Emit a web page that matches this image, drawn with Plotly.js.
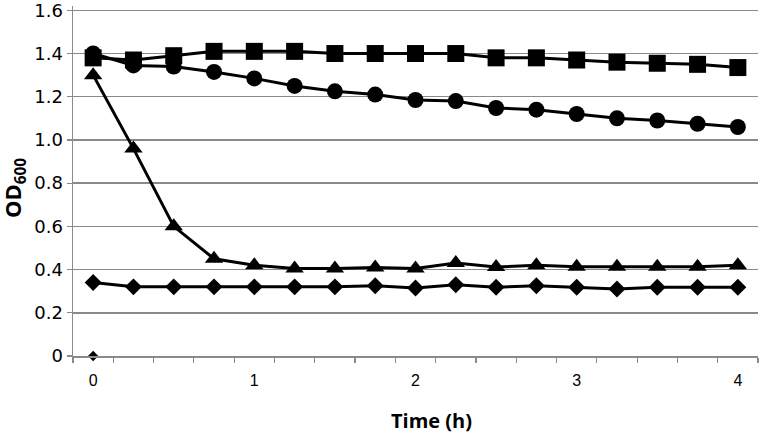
<!DOCTYPE html>
<html>
<head>
<meta charset="utf-8">
<script src="https://cdn.plot.ly/plotly-3.0.1.min.js"></script>
<style>html,body{margin:0;padding:0;background:#fff;}#chart{width:762px;height:434px;}</style>
</head>
<body>
<div id="chart"></div>
<script>
const time = [0, 0.25, 0.5, 0.75, 1, 1.25, 1.5, 1.75, 2, 2.25, 2.5, 2.75, 3, 3.25, 3.5, 3.75, 4];
const squares = [1.38, 1.37, 1.39, 1.41, 1.41, 1.41, 1.40, 1.40, 1.40, 1.40, 1.38, 1.38, 1.37, 1.36, 1.355, 1.35, 1.335];
const circles = [1.40, 1.345, 1.34, 1.315, 1.285, 1.25, 1.225, 1.21, 1.185, 1.18, 1.148, 1.14, 1.12, 1.10, 1.09, 1.075, 1.06];
const triangles = [1.30, 0.96, 0.60, 0.45, 0.42, 0.405, 0.405, 0.41, 0.405, 0.43, 0.412, 0.42, 0.413, 0.413, 0.413, 0.413, 0.42];
const diamonds = [0.34, 0.32, 0.32, 0.32, 0.32, 0.32, 0.32, 0.325, 0.315, 0.33, 0.318, 0.325, 0.318, 0.31, 0.318, 0.318, 0.318];
const extraX = [0];
const extraY = [0];
const yTickVals = [0, 0.2, 0.4, 0.6, 0.8, 1.0, 1.2, 1.4, 1.6];
const yTickText = ['0', '0.2', '0.4', '0.6', '0.8', '1.0', '1.2', '1.4', '1.6'];
const xTickText = ['0', '', '', '', '1', '', '', '', '2', '', '', '', '3', '', '', '', '4'];

const lineStyle = {color: '#000', width: 3};
function series(y, symbol, size) {
  return {x: time, y: y, type: 'scatter', mode: 'lines+markers', line: lineStyle,
    marker: {symbol: symbol, size: size, color: '#000'}, showlegend: false, cliponaxis: false};
}
const data = [
  series(diamonds, 'diamond', 13),
  series(triangles, 'triangle-up', 16),
  series(circles, 'circle', 16),
  series(squares, 'square', 17),
  {x: extraX, y: extraY, type: 'scatter', mode: 'markers', marker: {symbol: 'diamond', size: 8, color: '#000'}, showlegend: false, cliponaxis: false}
];
const layout = {
  width: 762, height: 434,
  margin: {l: 73, r: 4, t: 6, b: 78},
  paper_bgcolor: '#fff', plot_bgcolor: '#fff',
  xaxis: {
    type: 'category', range: [-0.5, 16.5],
    tickvals: time, ticktext: xTickText, tickson: 'boundaries',
    ticks: 'outside', ticklen: 5, tickcolor: '#8a8a8a', tickwidth: 1.2, ticklabelstandoff: 9,
    showgrid: false, zeroline: false, showline: true, linecolor: '#8a8a8a', linewidth: 1.5,
    tickfont: {family: 'Liberation Sans, Arial, sans-serif', size: 16, color: '#000'}
  },
  yaxis: {
    range: [0, 1.62], tickvals: yTickVals, ticktext: yTickText, ticklabeloverflow: 'allow',
    ticks: 'outside', ticklen: 5, tickcolor: '#8a8a8a', tickwidth: 1.2,
    showgrid: true, gridcolor: '#8a8a8a', gridwidth: 1.5, zeroline: false,
    showline: true, linecolor: '#8a8a8a', linewidth: 1.5,
    tickfont: {family: 'DejaVu Sans, sans-serif', size: 18, color: '#000'}
  },
  annotations: [
    {text: '<b>Time (h)</b>', xref: 'paper', yref: 'paper', x: 0.524, y: -0.183, xanchor: 'center', yanchor: 'middle', showarrow: false,
     font: {family: 'Open Sans, sans-serif', size: 20, color: '#000'}},
    {text: '<b>OD<sub>600</sub></b>', xref: 'paper', yref: 'paper', x: -0.086, y: 0.48, xanchor: 'center', yanchor: 'middle', showarrow: false, textangle: -90,
     font: {family: 'Open Sans, sans-serif', size: 22, color: '#000'}}
  ]
};
Plotly.newPlot('chart', data, layout, {displayModeBar: false, staticPlot: true});
</script>
</body>
</html>
